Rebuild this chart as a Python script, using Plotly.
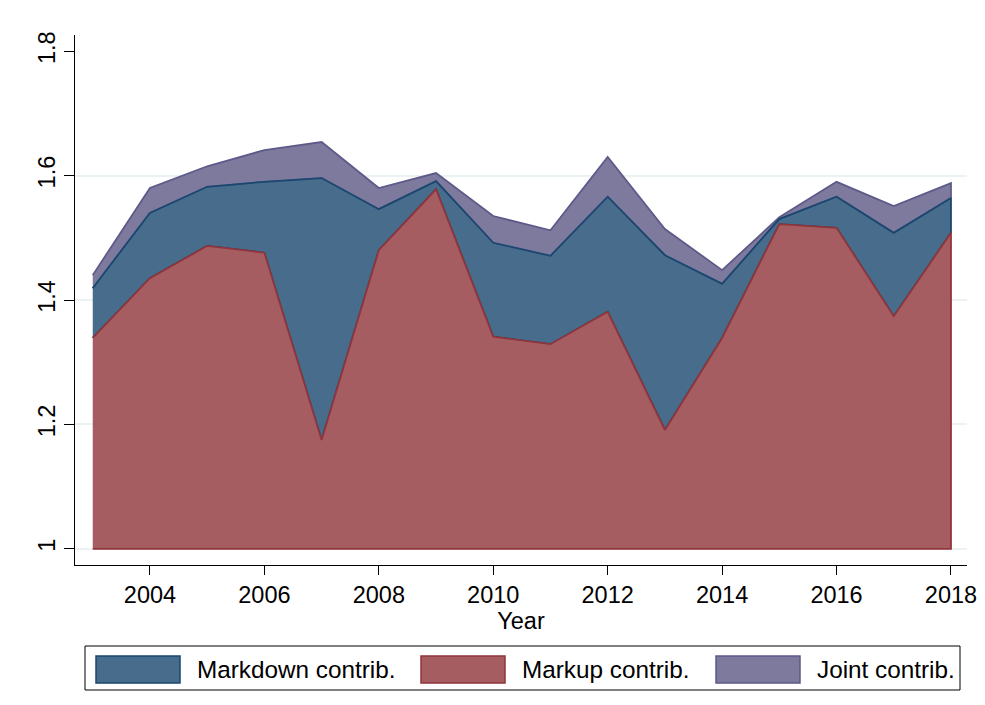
import plotly.graph_objects as go

years = list(range(2003, 2019))
# Upper boundary of each stacked layer (baseline = 1)
markup_top = [1.339, 1.435, 1.487, 1.476, 1.175, 1.480, 1.578, 1.341,
              1.329, 1.381, 1.191, 1.339, 1.522, 1.516, 1.374, 1.508]
markdown_top = [1.419, 1.540, 1.582, 1.590, 1.596, 1.546, 1.591, 1.492,
                1.471, 1.566, 1.472, 1.426, 1.530, 1.566, 1.508, 1.564]
joint_top = [1.440, 1.580, 1.615, 1.641, 1.654, 1.580, 1.604, 1.535,
             1.512, 1.630, 1.514, 1.448, 1.533, 1.590, 1.551, 1.588]
baseline = [1.0] * len(years)

series_names = ["Markdown contrib.", "Markup contrib.", "Joint contrib."]
fill_colors = {"Markdown contrib.": "#486c8c", "Markup contrib.": "#a65d62", "Joint contrib.": "#7e7a9e"}
line_colors = {"Markdown contrib.": "#1a476f", "Markup contrib.": "#90353b", "Joint contrib.": "#5d5a8a"}

y_ticks = [1.0, 1.2, 1.4, 1.6, 1.8]
y_tick_labels = ["1", "1.2", "1.4", "1.6", "1.8"]
y_grid = [1.0, 1.2, 1.4, 1.6]
x_ticks = [2004, 2006, 2008, 2010, 2012, 2014, 2016, 2018]

FONT = "Liberation Sans, Arial, sans-serif"
FS = 23.5
FS_LEG = 24.3
Y_RANGE = [0.974, 1.826]

fig = go.Figure()

layers = [
    ("Joint contrib.", joint_top, markdown_top),
    ("Markdown contrib.", markdown_top, markup_top),
    ("Markup contrib.", markup_top, baseline),
]
for name, top, bottom in layers:
    fig.add_trace(go.Scatter(
        x=years + years[::-1],
        y=top + bottom[::-1],
        mode="lines",
        fill="toself",
        fillcolor=fill_colors[name],
        line=dict(color=line_colors[name], width=1.8),
        name=name,
        showlegend=False,
        hoverinfo="skip",
    ))

# Manual legend (Stata style box)
W, H = 892.0, 530.0
def px(x):
    return (x - 75) / W
def py(y):
    return (565 - y) / H

shapes = [dict(type="rect", xref="paper", yref="paper",
               x0=px(85), x1=px(960), y0=py(690), y1=py(646),
               line=dict(color="black", width=1), fillcolor="white", layer="above")]
annotations = []
legend_pos = [(96, 195), (421, 520), (716, 815)]
for name, (x_patch, x_text) in zip(series_names, legend_pos):
    shapes.append(dict(type="rect", xref="paper", yref="paper",
                       x0=px(x_patch), x1=px(x_patch + 84), y0=py(683), y1=py(656),
                       fillcolor=fill_colors[name],
                       line=dict(color=line_colors[name], width=1.5), layer="above"))
    annotations.append(dict(xref="paper", yref="paper", x=px(x_text), y=py(669.5),
                            text=name, showarrow=False, xanchor="left", yanchor="middle",
                            font=dict(family=FONT, size=FS_LEG, color="black")))

fig.update_layout(
    width=985, height=705,
    margin=dict(l=75, r=18, t=35, b=140, autoexpand=False),
    paper_bgcolor="white", plot_bgcolor="white",
    font=dict(family=FONT, size=FS, color="black"),
    shapes=shapes, annotations=annotations,
    showlegend=False,
    yaxis2=dict(overlaying="y", range=Y_RANGE, tickvals=y_grid, showticklabels=False,
                showgrid=True, gridcolor="#eaf2f3", gridwidth=1.5, zeroline=False,
                showline=False, ticks="", automargin=False),
)
fig.update_xaxes(
    range=[2002.69, 2018.28],
    tickvals=x_ticks,
    ticks="outside", ticklen=9, tickcolor="black", tickwidth=1,
    showline=True, linecolor="black", linewidth=1,
    showgrid=False, zeroline=False, automargin=False,
    tickfont=dict(family=FONT, size=FS),
    title=dict(text="Year", font=dict(family=FONT, size=FS), standoff=0),
)
fig.update_layout(yaxis=dict(
    range=Y_RANGE,
    tickvals=y_ticks, ticktext=y_tick_labels, tickangle=-90,
    ticks="outside", ticklen=10, tickcolor="black", tickwidth=1,
    showline=True, linecolor="black", linewidth=1,
    showgrid=False, zeroline=False, automargin=False,
    tickfont=dict(family=FONT, size=FS),
))
# invisible trace to activate the grid-only overlay axis
fig.add_trace(go.Scatter(x=[years[0]], y=[baseline[0]], yaxis="y2", mode="markers",
                         marker=dict(opacity=0), showlegend=False, hoverinfo="skip"))

fig.write_html("out.html", config={"displayModeBar": False},
               post_script="document.body.style.margin='0px';")
